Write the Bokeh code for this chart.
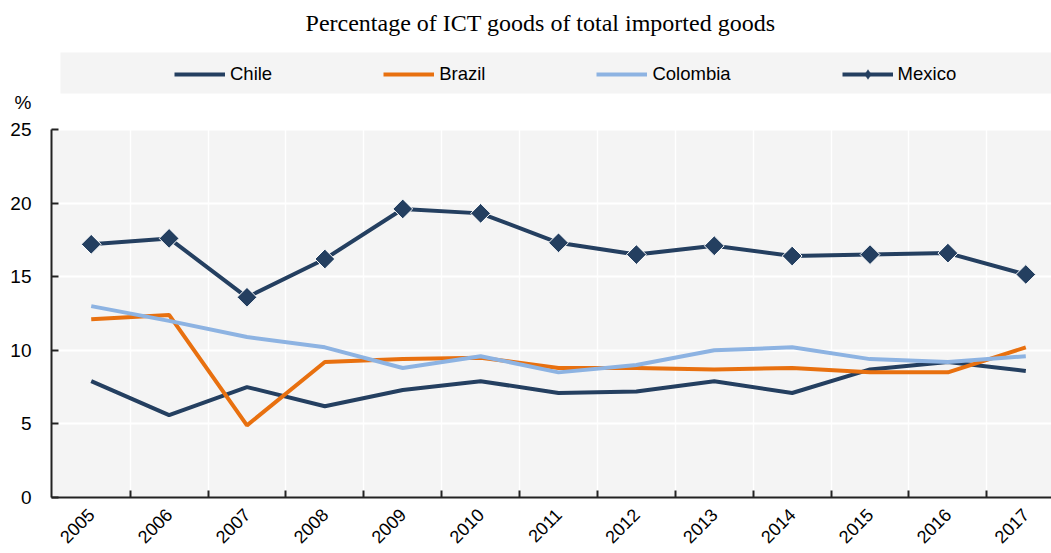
import math
from bokeh.plotting import figure
from bokeh.models import (Range1d, FixedTicker, Legend, LegendItem, Label,
                          BoxAnnotation, ColumnDataSource, LinearAxis)
from bokeh.embed import file_html
from bokeh.resources import INLINE

years = ["2005", "2006", "2007", "2008", "2009", "2010", "2011", "2012",
         "2013", "2014", "2015", "2016", "2017"]
chile = [7.9, 5.6, 7.5, 6.2, 7.3, 7.9, 7.1, 7.2, 7.9, 7.1, 8.7, 9.2, 8.6]
brazil = [12.1, 12.4, 4.9, 9.2, 9.4, 9.5, 8.8, 8.8, 8.7, 8.8, 8.5, 8.5, 10.2]
colombia = [13.0, 12.0, 10.9, 10.2, 8.8, 9.6, 8.5, 9.0, 10.0, 10.2, 9.4, 9.2, 9.6]
mexico = [17.2, 17.6, 13.6, 16.2, 19.6, 19.3, 17.3, 16.5, 17.1, 16.4, 16.5, 16.6, 15.15]
y_ticks = [0, 5, 10, 15, 20, 25]
unit_label = "%"
title_text = "Percentage of ICT goods of total imported goods"

NAVY = "#243f60"
ORANGE = "#e8700f"
LIGHT = "#8db3e2"
PANEL = "#f4f4f4"
SANS = "Liberation Sans"

Y_MAX = y_ticks[-1]
Y_TOP = 33.76          # headroom above the plot for title and legend band
UNIT_POS = 26.8        # where the "%" unit label sits

idx = list(range(len(years)))
src = ColumnDataSource(dict(x=idx, chile=chile, brazil=brazil,
                            colombia=colombia, mexico=mexico))

p = figure(width=1051, height=553, output_backend="svg", toolbar_location=None,
           x_range=Range1d(-0.51, 12.33), y_range=Range1d(0, Y_TOP),
           min_border_left=51, min_border_right=0, min_border_top=0,
           min_border_bottom=56, background_fill_color="white",
           border_fill_color="white", outline_line_color=None)

# plot panel background (only up to the top value)
p.add_layout(BoxAnnotation(bottom=0, top=Y_MAX, fill_color=PANEL, fill_alpha=1,
                           line_color=None, level="image"))

# grid
bounds = [i + 0.5 for i in idx[:-1]]
p.xgrid.ticker = FixedTicker(ticks=bounds)
p.xgrid.grid_line_color = "white"
p.xgrid.grid_line_width = 1.5
p.ygrid.ticker = FixedTicker(ticks=y_ticks)
p.ygrid.grid_line_color = "white"
p.ygrid.grid_line_width = 2

# x axis
p.xaxis.ticker = FixedTicker(ticks=idx, minor_ticks=bounds)
p.xaxis.major_label_overrides = {i: y for i, y in enumerate(years)}
p.xaxis.major_tick_in = 0
p.xaxis.major_tick_out = 0
p.xaxis.minor_tick_in = 7
p.xaxis.minor_tick_out = 0
p.xaxis.minor_tick_line_color = "#222222"
p.xaxis.minor_tick_line_width = 2
p.xaxis.axis_line_color = "#222222"
p.xaxis.axis_line_width = 2
p.xaxis.major_label_orientation = math.pi / 4
p.xaxis.major_label_text_font = SANS
p.xaxis.major_label_text_font_size = "18px"
p.xaxis.major_label_text_color = "black"
p.xaxis.major_label_standoff = 14

# inner y axis: line and inward ticks only (no labels)
p.yaxis.ticker = FixedTicker(ticks=[], minor_ticks=y_ticks)
p.yaxis.bounds = (0, Y_MAX)
p.yaxis.major_tick_line_color = None
p.yaxis.minor_tick_in = 7
p.yaxis.minor_tick_out = 0
p.yaxis.minor_tick_line_color = "#222222"
p.yaxis.minor_tick_line_width = 2
p.yaxis.axis_line_color = "#222222"
p.yaxis.axis_line_width = 2
p.yaxis.major_label_standoff = 0

# outer y axis: labels only (values + unit)
lab_axis = LinearAxis(ticker=FixedTicker(ticks=y_ticks + [UNIT_POS]),
                      major_label_overrides={UNIT_POS: unit_label},
                      axis_line_color=None, major_tick_line_color=None,
                      minor_tick_line_color=None,
                      major_label_text_font=SANS,
                      major_label_text_font_size="19px",
                      major_label_text_color="black",
                      major_label_standoff=14)
p.add_layout(lab_axis, "left")

# series
lw = 4
l_chile = p.line("x", "chile", source=src, color=NAVY, line_width=lw)
l_brazil = p.line("x", "brazil", source=src, color=ORANGE, line_width=lw)
l_col = p.line("x", "colombia", source=src, color=LIGHT, line_width=lw)
l_mex = p.line("x", "mexico", source=src, color=NAVY, line_width=lw)
# small diamonds (hidden under the large markers) used for the legend sample
leg_marker = p.scatter("x", "mexico", source=src, marker="diamond", size=6,
                       fill_color=NAVY, line_color=NAVY, line_width=0.5)
p.scatter("x", "mexico", source=src, marker="square", angle=math.pi / 4,
          size=14, fill_color=NAVY, line_color="white", line_width=1)

# title
p.add_layout(Label(x=540, y=22, x_units="canvas", y_units="canvas",
                   text=title_text, text_font="Liberation Serif",
                   text_font_size="24px", text_color="black",
                   text_align="center", text_baseline="middle"))

# legend band
band = BoxAnnotation(left=60, right=1051, top=52, bottom=93,
                     left_units="canvas", right_units="canvas",
                     top_units="canvas", bottom_units="canvas",
                     fill_color=PANEL, fill_alpha=1, line_color=None)
p.add_layout(band)

legend = Legend(items=[LegendItem(label="Chile", renderers=[l_chile]),
                       LegendItem(label="Brazil", renderers=[l_brazil]),
                       LegendItem(label="Colombia", renderers=[l_col]),
                       LegendItem(label="Mexico", renderers=[l_mex, leg_marker])],
                orientation="horizontal", location=(123, 411),
                glyph_width=51, glyph_height=24, label_height=24,
                label_standoff=5, spacing=111, padding=0, margin=0,
                label_text_font=SANS, label_text_font_size="18.5px",
                label_text_color="black", background_fill_alpha=0,
                border_line_alpha=0)
p.add_layout(legend, "center")

open("out.html", "w").write(file_html(p, INLINE))
